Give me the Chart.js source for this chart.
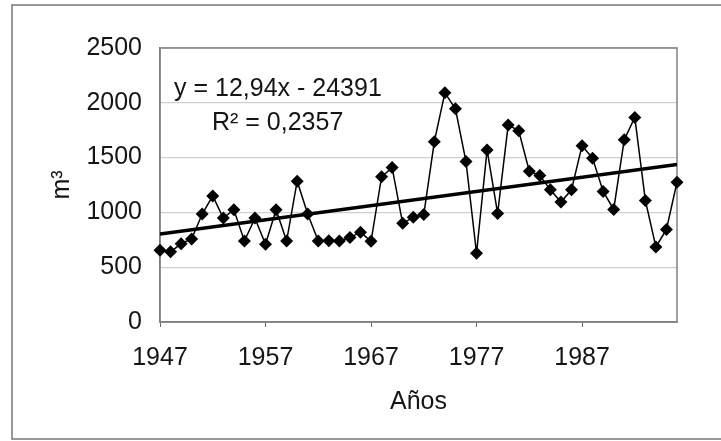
<!DOCTYPE html>
<html>
<head>
<meta charset="utf-8">
<script src="https://cdn.jsdelivr.net/npm/chart.js@4"></script>
<style>
  html, body { margin: 0; padding: 0; background: #fff; }
  #wrap { width: 721px; height: 441px; }
</style>
</head>
<body>
<div id="wrap"><canvas id="grafico" width="721" height="441"></canvas></div>
<script>
// ==== Datos ====
const anos = [1947, 1948, 1949, 1950, 1951, 1952, 1953, 1954, 1955, 1956,
              1957, 1958, 1959, 1960, 1961, 1962, 1963, 1964, 1965, 1966,
              1967, 1968, 1969, 1970, 1971, 1972, 1973, 1974, 1975, 1976,
              1977, 1978, 1979, 1980, 1981, 1982, 1983, 1984, 1985, 1986,
              1987, 1988, 1989, 1990, 1991, 1992, 1993, 1994, 1995, 1996];
const volumen = [655, 640, 715, 758, 985, 1150, 948, 1024, 739, 948,
                 709, 1024, 739, 1285, 985, 739, 742, 739, 770, 820,
                 736, 1325, 1409, 900, 955, 980, 1645, 2091, 1945, 1464,
                 627, 1570, 991, 1798, 1745, 1376, 1336, 1206, 1094, 1206,
                 1609, 1494, 1191, 1027, 1664, 1867, 1109, 685, 845, 1276];
const xTicks = [1947, 1957, 1967, 1977, 1987];
const yTicks = [0, 500, 1000, 1500, 2000, 2500];

// tendencia lineal (de la ecuación del gráfico)
const pendiente = 12.94;
const ordenada = -24391;
const ecuacion = 'y = 12,94x - 24391';
const r2Texto = 'R\u00b2 = 0,2357';

const tendencia = [anos[0], anos[anos.length - 1]].map(a => ({ x: a, y: pendiente * a + ordenada }));

const fuente = '"Liberation Sans", Arial, sans-serif';
const colorTexto = '#151515';
const tam = 25;

// marco exterior, borde del área y texto de la ecuación
const extras = {
    id: 'extras',
    beforeDraw(chart) {
        const c = chart.ctx;
        c.save();
        c.fillStyle = '#fff';
        c.fillRect(0, 0, chart.width, chart.height);
        c.strokeStyle = '#777';
        c.lineWidth = 1.5;
        c.strokeRect(12, 5, 740, 434);
        c.restore();
    },
    beforeDatasetsDraw(chart) {
        const a = chart.chartArea;
        const c = chart.ctx;
        c.save();
        c.strokeStyle = '#808080';
        c.lineWidth = 1.5;
        c.strokeRect(a.left, a.top, a.right - a.left, a.bottom - a.top);
        c.restore();
    },
    afterDatasetsDraw(chart) {
        const c = chart.ctx;
        c.save();
        c.fillStyle = colorTexto;
        c.font = tam + 'px ' + fuente;
        c.textBaseline = 'middle';
        c.textAlign = 'left';
        c.fillText(ecuacion, 174, 89);
        c.fillText(r2Texto, 212, 123);
        c.restore();
    }
};

const ctx = document.getElementById('grafico').getContext('2d');
const grafico = new Chart(ctx, {
    type: 'line',
    data: {
        datasets: [{
            label: 'Volumen',
            data: anos.map((a, i) => ({ x: a, y: volumen[i] })),
            borderColor: '#000',
            backgroundColor: '#000',
            borderWidth: 1.5,
            pointStyle: 'rectRot',
            pointRadius: 6.5,
            pointBorderWidth: 0,
            tension: 0,
            clip: false
        }, {
            label: 'Tendencia',
            data: tendencia,
            borderColor: '#000',
            borderWidth: 3.5,
            pointRadius: 0,
            tension: 0
        }]
    },
    options: {
        responsive: false,
        animation: false,
        layout: { padding: { left: 0, top: 48, right: 44, bottom: 0 } },
        plugins: { legend: { display: false }, tooltip: { enabled: false } },
        scales: {
            x: {
                type: 'linear',
                min: 1947,
                max: 1996,
                afterBuildTicks: s => { s.ticks = xTicks.map(v => ({ value: v })); },
                afterFit: s => { s.height = 119; },
                grid: { drawOnChartArea: false, color: '#666', tickLength: 5 },
                border: { color: '#777', width: 1.5 },
                ticks: {
                    color: colorTexto,
                    font: { family: fuente, size: tam },
                    padding: 16,
                    maxRotation: 0,
                    autoSkip: false,
                    callback: v => String(v)
                },
                title: {
                    display: true,
                    text: 'Años',
                    color: colorTexto,
                    font: { family: fuente, size: tam },
                    padding: { top: 0, bottom: 24 }
                }
            },
            y: {
                min: 0,
                max: 2500,
                afterBuildTicks: s => { s.ticks = yTicks.map(v => ({ value: v })); },
                afterFit: s => { s.width = 160; },
                grid: { color: '#cfcfcf', lineWidth: 1.2, drawTicks: false },
                border: { color: '#777', width: 1.5 },
                ticks: {
                    color: colorTexto,
                    font: { family: fuente, size: tam },
                    padding: 18,
                    callback: v => String(v)
                },
                title: {
                    display: true,
                    text: 'm\u00b3',
                    color: colorTexto,
                    font: { family: fuente, size: tam },
                    padding: { top: 47, bottom: 0 }
                }
            }
        }
    },
    plugins: [extras]
});
</script>
</body>
</html>
